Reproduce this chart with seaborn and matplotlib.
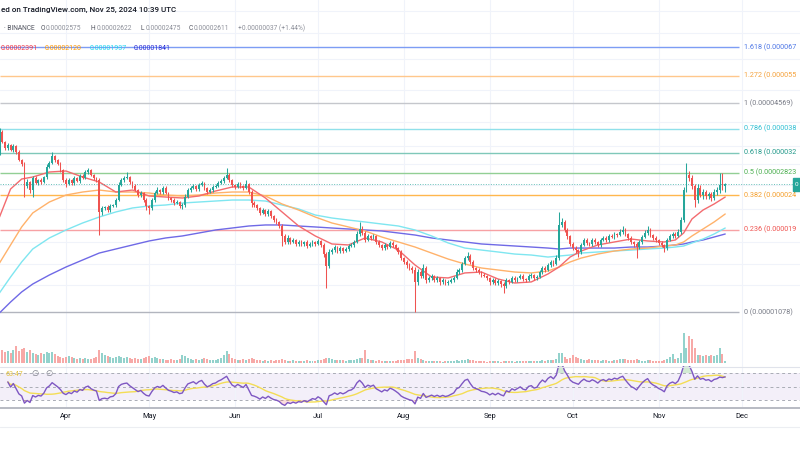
import numpy as np
import pandas as pd
import matplotlib
matplotlib.use("Agg")
import matplotlib.pyplot as plt
import matplotlib.dates as mdates
from matplotlib.ticker import NullLocator, NullFormatter, FixedLocator
from matplotlib.lines import Line2D
from matplotlib.patches import Rectangle
import seaborn as sns

sns.set_theme(style="white")
plt.rcParams["font.family"] = ["Roboto", "DejaVu Sans"]

# ---------------- data (prices in units of 1e-8 USDT) ----------------
START = "2024-03-08"
PRICE_UNIT = 1e-8
first_open = 3257
close = [
    3739, 3489, 3347, 3417, 3302, 3394, 3257, 3081, 2997, 2575,
    2647, 2504, 2721, 2629, 2684, 2647, 2740, 2936, 3018, 3167,
    3081, 2997, 2876, 2684, 2611, 2684, 2629, 2721, 2665, 2759,
    2721, 2836, 2876, 2778, 2721, 2684, 2152, 2212, 2227, 2181,
    2243, 2258, 2337, 2592, 2684, 2721, 2740, 2647, 2575, 2504,
    2419, 2453, 2337, 2243, 2212, 2337, 2453, 2504, 2470, 2539,
    2453, 2370, 2337, 2289, 2305, 2243, 2258, 2386, 2504, 2539,
    2575, 2522, 2592, 2629, 2539, 2470, 2504, 2557, 2575, 2629,
    2665, 2721, 2778, 2684, 2592, 2557, 2611, 2575, 2539, 2611,
    2470, 2289, 2258, 2212, 2137, 2181, 2122, 2166, 2093, 2035,
    2008, 1953, 1823, 1749, 1798, 1749, 1773, 1725, 1749, 1725,
    1749, 1701, 1725, 1749, 1725, 1761, 1713, 1609, 1481, 1632,
    1654, 1689, 1643, 1677, 1643, 1666, 1701, 1713, 1749, 1848,
    1913, 1861, 1773, 1823, 1798, 1823, 1749, 1713, 1677, 1713,
    1689, 1737, 1713, 1677, 1632, 1565, 1523, 1492, 1461, 1441,
    1327, 1421, 1383, 1461, 1345, 1364, 1383, 1345, 1364, 1327,
    1345, 1317, 1327, 1345, 1364, 1421, 1441, 1502, 1565, 1587,
    1523, 1461, 1441, 1421, 1392, 1383, 1364, 1327, 1345, 1317,
    1336, 1308, 1290, 1345, 1327, 1364, 1345, 1364, 1383, 1354,
    1345, 1383, 1392, 1364, 1373, 1421, 1461, 1441, 1492, 1523,
    1502, 1565, 1967, 2008, 1900, 1823, 1725, 1677, 1654, 1632,
    1713, 1773, 1737, 1725, 1773, 1749, 1713, 1773, 1798, 1773,
    1823, 1810, 1848, 1835, 1874, 1900, 1848, 1798, 1749, 1725,
    1689, 1749, 1810, 1861, 1900, 1835, 1798, 1773, 1737, 1713,
    1677, 1773, 1823, 1848, 1823, 1874, 2035, 2504, 2778, 2721,
    2575, 2337, 2539, 2419, 2470, 2403, 2436, 2370, 2470, 2504,
    2592, 2575, 2611,
]
upper_wick_pct = [
    2.8, 1.2, 0.8, 1.5, 1.0, 1.6, 0.9, 1.2, 1.0, 1.4,
    1.8, 1.0, 1.3, 1.5, 0.8, 1.2, 1.0, 2.0, 1.4, 2.5,
    1.0, 0.8, 1.2, 1.0, 1.5, 1.2, 0.9, 1.4, 1.0, 1.6,
    1.1, 1.5, 1.3, 0.8, 1.0, 0.9, 1.2, 1.6, 1.0, 1.4,
    1.2, 1.0, 1.5, 2.0, 1.3, 1.6, 3.5, 1.0, 0.9, 1.2,
    1.0, 1.4, 0.8, 1.1, 1.0, 1.6, 1.3, 1.8, 1.0, 1.5,
    1.2, 0.9, 1.0, 1.1, 1.3, 0.8, 1.2, 1.8, 1.4, 1.2,
    1.5, 1.0, 1.3, 1.6, 0.9, 1.0, 1.2, 1.4, 1.1, 1.3,
    1.2, 1.5, 5.0, 1.2, 1.0, 0.9, 1.4, 1.2, 1.0, 2.5,
    1.0, 1.2, 1.4, 0.8, 1.0, 1.5, 1.0, 1.3, 0.9, 1.0,
    1.2, 1.0, 1.5, 1.2, 1.8, 1.0, 1.4, 1.0, 1.2, 1.5,
    1.0, 1.3, 1.2, 1.6, 1.0, 1.4, 1.0, 1.2, 1.5, 2.0,
    1.2, 1.4, 1.0, 1.3, 1.0, 1.5, 1.2, 1.4, 1.6, 2.0,
    5.0, 2.0, 1.2, 1.5, 1.0, 1.4, 1.0, 1.2, 0.9, 1.3,
    1.0, 1.4, 1.2, 1.0, 0.9, 1.2, 1.0, 1.3, 1.1, 1.5,
    1.8, 2.2, 1.5, 3.0, 1.2, 1.4, 1.6, 1.0, 1.2, 1.0,
    1.3, 1.0, 1.2, 1.4, 1.5, 1.8, 1.2, 1.6, 1.4, 2.5,
    1.5, 1.2, 1.0, 1.3, 1.0, 1.2, 0.9, 1.0, 1.4, 1.1,
    1.2, 1.0, 1.4, 1.6, 1.0, 1.5, 1.2, 1.0, 1.4, 1.2,
    1.0, 1.5, 1.2, 1.0, 1.3, 1.6, 1.4, 1.2, 1.6, 1.5,
    1.2, 1.8, 9.0, 3.0, 1.5, 1.2, 1.0, 1.4, 1.2, 1.0,
    1.6, 1.4, 1.2, 1.0, 1.5, 1.2, 1.0, 1.6, 1.4, 1.2,
    1.5, 1.2, 1.6, 1.0, 1.8, 2.5, 1.2, 1.0, 1.3, 1.0,
    1.2, 1.5, 1.6, 1.8, 3.0, 1.2, 1.0, 1.3, 1.0, 1.2,
    1.0, 1.6, 1.4, 1.5, 1.2, 1.8, 2.0, 2.0, 9.0, 2.5,
    2.0, 1.5, 3.0, 1.8, 2.0, 1.5, 1.6, 1.4, 2.0, 1.8,
    8.5, 8.7, 0.4,
]
lower_wick_pct = [
    2.0, 1.0, 1.2, 1.4, 1.0, 1.3, 1.5, 1.0, 1.2, 7.5,
    1.2, 2.0, 5.0, 1.0, 1.4, 1.2, 1.0, 1.2, 0.9, 1.0,
    1.2, 1.0, 1.4, 1.6, 2.0, 1.0, 1.3, 1.2, 1.0, 1.4,
    1.0, 0.8, 1.2, 1.0, 1.3, 1.5, 14.5, 2.0, 1.4, 1.2,
    1.6, 1.0, 1.2, 1.0, 0.9, 1.2, 1.0, 1.4, 1.2, 1.0,
    1.5, 1.2, 1.4, 3.0, 4.0, 1.6, 1.2, 1.0, 1.4, 1.2,
    1.0, 1.4, 1.2, 1.6, 1.0, 1.4, 2.0, 1.2, 1.0, 1.3,
    1.0, 1.2, 1.4, 1.0, 1.2, 1.5, 1.0, 1.2, 1.0, 0.9,
    1.0, 1.2, 1.0, 1.4, 1.2, 1.5, 1.0, 1.2, 1.4, 1.0,
    1.6, 2.5, 1.2, 1.4, 1.6, 1.0, 1.4, 1.2, 1.5, 1.2,
    1.4, 1.6, 7.0, 1.5, 1.2, 1.6, 1.0, 1.4, 1.2, 1.6,
    1.2, 1.5, 1.0, 1.4, 1.2, 1.0, 1.6, 2.0, 14.0, 1.6,
    1.2, 1.0, 1.5, 1.2, 1.4, 1.0, 1.2, 1.0, 1.2, 1.0,
    1.2, 1.4, 1.6, 1.0, 1.2, 1.0, 1.4, 1.2, 1.6, 1.0,
    1.2, 1.0, 1.4, 1.2, 1.6, 1.5, 1.2, 1.8, 1.6, 2.0,
    19.0, 2.0, 1.6, 1.4, 1.8, 1.2, 1.4, 1.6, 1.2, 1.8,
    1.4, 1.6, 1.2, 1.0, 1.2, 1.0, 1.4, 1.2, 1.0, 1.2,
    1.6, 1.2, 1.4, 1.2, 1.6, 1.0, 1.4, 1.8, 1.2, 1.6,
    1.2, 1.8, 4.5, 1.2, 1.6, 1.0, 1.4, 1.2, 1.0, 1.4,
    1.2, 1.0, 1.4, 1.6, 1.2, 1.0, 1.2, 1.4, 1.0, 1.2,
    1.4, 1.0, 1.2, 1.6, 1.4, 1.8, 1.6, 1.4, 2.0, 3.5,
    1.2, 1.0, 1.6, 1.4, 1.2, 1.6, 1.4, 1.2, 1.0, 1.4,
    1.2, 1.0, 1.4, 1.2, 1.0, 1.2, 1.4, 1.6, 1.4, 1.8,
    7.0, 1.4, 1.2, 1.0, 1.2, 1.6, 1.4, 1.2, 1.6, 1.4,
    3.0, 1.2, 1.0, 1.4, 1.2, 1.0, 1.2, 1.4, 1.6, 2.0,
    2.2, 5.0, 2.0, 1.6, 2.4, 1.8, 2.0, 2.2, 1.6, 1.8,
    2.0, 2.4, 3.9,
]
volume = [
    28, 13, 11, 12, 10, 13, 17, 12, 14, 15,
    11, 13, 10, 9, 8, 10, 9, 11, 10, 11,
    9, 7, 6, 5, 6, 7, 6, 5, 4, 5,
    4, 5, 4, 4, 5, 6, 13, 10, 8, 7,
    6, 5, 6, 7, 6, 5, 6, 5, 4, 5,
    4, 4, 5, 6, 7, 5, 6, 5, 4, 4,
    3, 3, 4, 3, 3, 4, 8, 7, 5, 4,
    3, 4, 3, 4, 5, 4, 3, 3, 3, 4,
    5, 8, 12, 9, 5, 4, 3, 3, 4, 3,
    4, 5, 4, 3, 3, 2, 3, 2, 3, 2,
    3, 3, 4, 3, 2, 2, 3, 2, 2, 2,
    2, 3, 2, 2, 2, 3, 3, 4, 5, 5,
    4, 3, 3, 3, 3, 2, 3, 3, 3, 4,
    5, 5, 13, 4, 3, 3, 2, 3, 2, 2,
    2, 2, 2, 2, 3, 3, 3, 4, 4, 4,
    12, 5, 4, 3, 2, 2, 2, 2, 2, 2,
    1, 2, 2, 2, 2, 3, 2, 3, 3, 4,
    3, 3, 2, 2, 2, 2, 1, 2, 2, 2,
    2, 1, 2, 2, 2, 2, 1, 2, 2, 2,
    2, 2, 2, 2, 2, 2, 3, 2, 3, 3,
    3, 4, 10, 10, 6, 4, 5, 8, 6, 5,
    4, 3, 3, 4, 3, 3, 3, 2, 3, 3,
    2, 2, 3, 3, 4, 4, 4, 3, 3, 3,
    4, 3, 2, 2, 3, 3, 2, 2, 2, 2,
    3, 4, 6, 9, 4, 5, 10, 30, 15, 27,
    24, 15, 8, 8, 7, 8, 7, 8, 7, 8,
    15, 9, 2,
]

# moving-average ribbon, read at sample days (day offset from START)
ma_day = [0, 4, 8, 12, 18, 24, 30, 36, 42, 48, 54, 60, 66, 72, 78, 84, 90, 96,
          102, 108, 114, 120, 126, 132, 138, 144, 150, 156, 162, 168, 174, 180,
          186, 192, 198, 202, 206, 210, 216, 222, 228, 234, 240, 244, 247, 250,
          254, 258, 262]
ma_red = [2078, 2522, 2702, 2740, 2836, 2856, 2740, 2647, 2470, 2504, 2403, 2386,
          2370, 2403, 2487, 2557, 2557, 2370, 2152, 1953, 1823, 1725, 1713, 1798,
          1749, 1654, 1492, 1373, 1364, 1412, 1421, 1354, 1317, 1327, 1402, 1471,
          1576, 1643, 1713, 1749, 1785, 1761, 1749, 1773, 1861, 2050, 2181, 2274, 2386]
ma_orange = [1512, 1713, 1940, 2137, 2305, 2419, 2470, 2504, 2470, 2470, 2453, 2419,
             2403, 2419, 2453, 2470, 2470, 2403, 2274, 2181, 2078, 1994, 1940, 1887,
             1810, 1749, 1689, 1620, 1554, 1502, 1461, 1441, 1421, 1412, 1431, 1471,
             1523, 1565, 1609, 1643, 1666, 1677, 1701, 1713, 1749, 1823, 1913, 2008, 2122]
ma_cyan = [1230, 1373, 1523, 1666, 1798, 1900, 1994, 2078, 2152, 2212, 2243, 2258,
           2289, 2305, 2321, 2337, 2337, 2321, 2258, 2197, 2107, 2064, 2035, 2008,
           1980, 1953, 1900, 1823, 1737, 1677, 1654, 1632, 1609, 1598, 1576, 1587,
           1598, 1620, 1632, 1643, 1654, 1666, 1677, 1689, 1701, 1737, 1785, 1848, 1926]
ma_blue = [1071, 1155, 1238, 1308, 1392, 1471, 1544, 1620, 1666, 1713, 1761, 1798,
           1823, 1861, 1900, 1926, 1953, 1967, 1967, 1953, 1940, 1926, 1913, 1900,
           1887, 1861, 1835, 1798, 1773, 1749, 1725, 1713, 1701, 1689, 1677, 1666,
           1677, 1677, 1677, 1677, 1689, 1689, 1701, 1713, 1725, 1749, 1773, 1810, 1848]
ma_last_text = ["0.00002391", "0.00002120", "0.00001937", "0.00001841"]

fib_ratios = [0, 0.236, 0.382, 0.5, 0.618, 0.786, 1, 1.272, 1.618]
fib_low, fib_high = 1077.6, 4569.0
FIB_LABEL_CHARS = 15   # the part of each level label visible in the cropped reference

# header texts as they appear in the (left-cropped) reference
title_text = "ed on TradingView.com, Nov 25, 2024 10:39 UTC"
symbol_text = "\u00b7 BINANCE"
ohlc_keys = ["O", "H", "L", "C"]
ohlc_vals = ["0.00002575", "0.00002622", "0.00002475", "0.00002611"]
change_text = "+0.00000037 (+1.44%)"
rsi_value_text = "63.47"

# ---------------- styling ----------------
UP, DN = "#26a69a", "#ef5350"
fib_line_col = ["#b2b5be", "#f7a1a4", "#ffb74d", "#92cf94", "#7fc8b9", "#8fe0ea",
                "#c5c7cc", "#ffc78c", "#7d9df4"]
fib_text_col = ["#787b86", "#ef5350", "#f59e2a", "#4caf50", "#22998a", "#2fbfd3",
                "#787b86", "#f5a23c", "#4f78e6"]
ma_line_col = ["#f36b6f", "#ffb26b", "#7fe6f0", "#6f69e6"]
ma_text_col = ["#f23645", "#ff9800", "#1fd8f0", "#2b2bd6"]

W, H = 800, 450
fig = plt.figure(figsize=(8, 4.5), dpi=100, facecolor="white")


def pax(x0, y0, x1, y1, **kw):
    return fig.add_axes([x0 / W, 1 - y1 / H, (x1 - x0) / W, (y1 - y0) / H], **kw)


def ftext(x, y, s, **kw):
    return fig.text(x / W, 1 - y / H, s, **kw)


n = min(len(close), len(upper_wick_pct), len(lower_wick_pct), len(volume))
dates = pd.date_range(START, periods=n, freq="D")
xd = mdates.date2num(dates)
x_start = mdates.date2num(pd.Timestamp(START))

c = np.array(close[:n], float)
o = np.r_[first_open, c[:-1]]
top = np.maximum(o, c)
bot = np.minimum(o, c)
hi = top * (1 + np.array(upper_wick_pct[:n]) / 100)
lo = bot * (1 - np.array(lower_wick_pct[:n]) / 100)
up = c >= o
cols = np.where(up, UP, DN)

# ---------------- main pane ----------------
ax = pax(0, 0, 800, 366)
ax.set_facecolor("white")
ax.set_yscale("log")
ax.set_ylim(742.3, 9309)
ax.set_xlim(x_start + 0.18, x_start + 289.0)
ax.xaxis.set_major_locator(mdates.MonthLocator())
ax.yaxis.set_major_locator(FixedLocator([1300, 1500, 1750, 2200, 2600, 3000, 3400,
                                         4000, 5000, 6200, 7400, 8600]))
ax.yaxis.set_minor_locator(NullLocator())
ax.yaxis.set_major_formatter(NullFormatter())
ax.grid(True, color="#f0f3fa", lw=0.8)
ax.tick_params(length=0, labelbottom=False, labelleft=False)
for s in ax.spines.values():
    s.set_visible(False)

# fibonacci levels
fib_prices = [fib_low + r * (fib_high - fib_low) for r in fib_ratios]
for r, p, lc, tc in zip(fib_ratios, fib_prices, fib_line_col, fib_text_col):
    ax.hlines(p, x_start + 0.18, x_start + 267.0, color=lc, lw=1.0, zorder=1)
    label = f"{r:g} ({p * PRICE_UNIT:.8f})"[:FIB_LABEL_CHARS]
    ax.text(x_start + 268.9, p, label, color=tc,
            fontsize=5.2, va="center", ha="left", clip_on=False, zorder=6)

# MA ribbon
ma_x = x_start + np.array(ma_day, float)
for vals, col in zip([ma_blue, ma_cyan, ma_orange, ma_red], ma_line_col[::-1]):
    sns.lineplot(x=ma_x, y=np.array(vals, float), ax=ax, color=col, lw=1.0,
                 zorder=2, estimator=None, sort=False)

# candles
ax.vlines(xd, lo, hi, colors=cols, lw=0.75, zorder=3)
ax.bar(xd, np.maximum(top - bot, top * 0.003), bottom=bot, width=0.66,
       color=cols, lw=0, zorder=4)

# current price line
ax.axhline(c[-1], color=UP, ls=(0, (1, 1.6)), lw=0.7, alpha=0.7, zorder=2)
ax.set_xlabel("")
ax.set_ylabel("")

# ---------------- volume (overlay) ----------------
axv = pax(0, 333, 800, 363, sharex=ax)
axv.patch.set_alpha(0)
axv.bar(xd, np.array(volume[:n], float), width=0.72,
        color=np.where(up, "#93d2cc", "#f7a9a7"), lw=0)
axv.set_ylim(0, 30)
axv.set_axis_off()

# ---------------- RSI pane ----------------
s = pd.Series(np.r_[first_open, c])
d = s.diff().dropna().reset_index(drop=True)
gain = d.clip(lower=0)
loss = (-d).clip(lower=0)
ag = gain.ewm(alpha=1 / 14, adjust=True, min_periods=4).mean()
al = loss.ewm(alpha=1 / 14, adjust=True, min_periods=4).mean()
rsi = (100 - 100 / (1 + ag / al)).values
rsi_ma = pd.Series(rsi).rolling(14, min_periods=1).mean().values

axr = pax(0, 366, 800, 407, sharex=ax)
axr.set_facecolor("white")
axr.set_ylim(19.6, 80.4)
axr.axhspan(30, 70, color="#7e57c2", alpha=0.09, lw=0, zorder=0)
for lvl in (70, 50, 30):
    axr.axhline(lvl, color="#a9acb5", ls=(0, (3, 3)), lw=0.7, zorder=1)
axr.fill_between(xd, 70, rsi, where=rsi > 70, interpolate=True,
                 color="#4caf50", alpha=0.25, lw=0, zorder=2)
axr.fill_between(xd, 30, rsi, where=rsi < 30, interpolate=True,
                 color="#ef5350", alpha=0.2, lw=0, zorder=2)
sns.lineplot(x=xd, y=rsi_ma, ax=axr, color="#f3dd55", lw=1.0, zorder=3)
sns.lineplot(x=xd, y=rsi, ax=axr, color="#7e57c2", lw=1.0, zorder=4)
axr.set_xlabel("")
axr.set_ylabel("")
axr.yaxis.set_major_locator(NullLocator())
axr.grid(True, axis="x", color="#f0f3fa", lw=0.8)
axr.xaxis.set_major_formatter(mdates.DateFormatter("%b"))
axr.tick_params(axis="x", length=0, pad=4, labelsize=5.4, labelcolor="#131722")
for sp in axr.spines.values():
    sp.set_visible(False)
ax.set_xlim(x_start + 0.18, x_start + 289.0)

# pane separators
for yy, colr, lw in [(366.5, "#e0e3eb", 0.8), (407.5, "#b8bbc3", 1.4), (427, "#eceef2", 0.8)]:
    fig.add_artist(Line2D([0, 1], [1 - yy / H, 1 - yy / H], color=colr, lw=lw,
                          transform=fig.transFigure))

# ---------------- header texts ----------------
ftext(1, 10, title_text, ha="left", va="center", fontsize=5.8,
      color="#131722", fontweight="medium")
ftext(35, 28, symbol_text, ha="right", va="center", fontsize=4.8, color="#50535e")
for k, v, xk, xv in zip(ohlc_keys, ohlc_vals, [40.5, 90.5, 140.5, 188.5],
                        [46, 96.5, 146, 194]):
    ftext(xk, 28, k, ha="left", va="center", fontsize=4.8, color="#50535e")
    ftext(xv, 28, v, ha="left", va="center", fontsize=4.8, color="#8c8f99")
ftext(238, 28, change_text, ha="left", va="center", fontsize=4.8, color="#8c8f99")
for t, xx, colr in zip(ma_last_text, [1, 45, 90, 134], ma_text_col):
    ftext(xx, 48, t, ha="left", va="center", fontsize=5.0, color=colr)

# RSI legend
ftext(6, 374, rsi_value_text, ha="left", va="center", fontsize=5.0, color="#e3c23e")
ftext(31, 374, "\u2205", ha="left", va="center", fontsize=6, color="#787b86")
ftext(45, 374, "\u2205", ha="left", va="center", fontsize=6, color="#787b86")

# last price tag on the (cut-off) price scale
fig.add_artist(Rectangle((793 / W, 1 - 191 / H), 12 / W, 13 / H, color=UP,
                         transform=fig.transFigure))
ftext(794.3, 184.5, "0", ha="left", va="center", fontsize=4.6, color="white")

fig.savefig("out.png", dpi=100, facecolor="white")
